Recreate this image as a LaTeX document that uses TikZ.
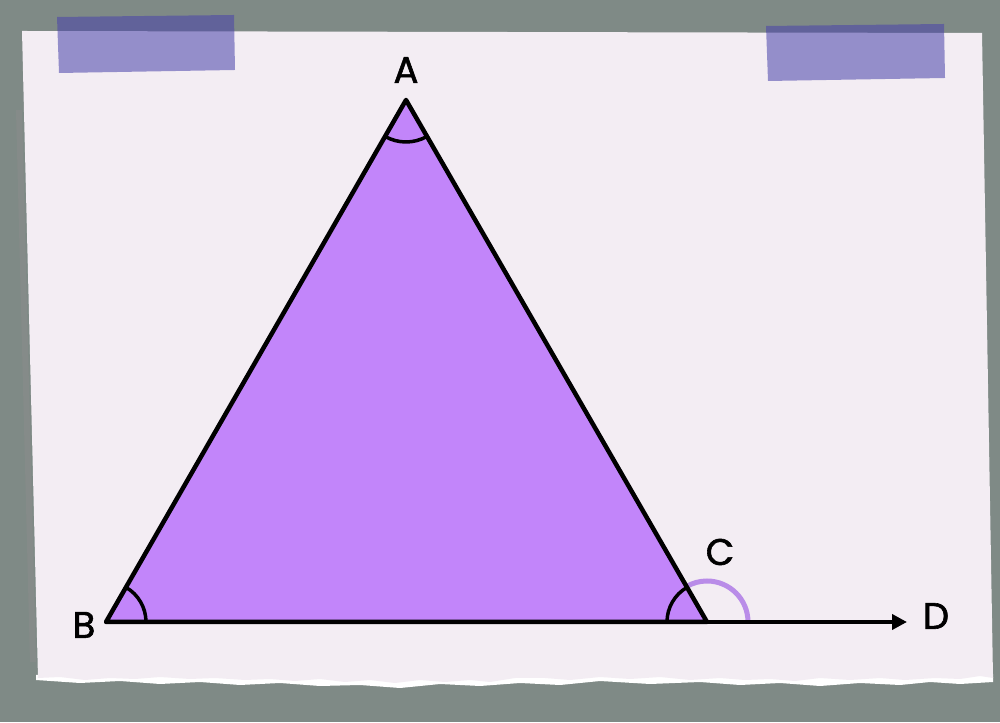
\documentclass[tikz,border=0pt]{standalone}
\usepackage{fontspec}
\setmainfont{Poppins}[FakeBold=1.6]
\usetikzlibrary{arrows.meta}
\definecolor{wall}{RGB}{127,138,134}
\definecolor{paper}{RGB}{243,237,243}
\definecolor{tapeblue}{RGB}{75,68,170}
\definecolor{trifill}{RGB}{194,133,250}
\definecolor{extarc}{RGB}{185,140,232}

\begin{document}
\begin{tikzpicture}[x=1pt, y=1pt, >={Triangle[length=15pt, width=15pt]},
	lbl/.style={font=\fontsize{37}{37}\selectfont, text=black, inner sep=0pt},
	tape/.style={fill=tapeblue, opacity=0.56},
	angarc/.style={line width=3.5pt}]
	\fill[wall] (0,0) rectangle (1000,722);
	\useasboundingbox (0,0) rectangle (1000,722);
	% paper with a torn lower edge
	\fill[black!45, opacity=0.5] (16,612) -- (22,612) -- (36,60) -- (30,60) -- cycle;
	\fill[white] (36,47) -- (993,48) -- (993,40) -- (960,38) -- (930,40) -- (900,37) -- (860,39)
		-- (820,36) -- (780,39) -- (740,37) -- (700,40) -- (650,38) -- (600,41) -- (560,37)
		-- (520,39) -- (480,36) -- (440,38) -- (400,34) -- (360,37) -- (320,36) -- (280,39)
		-- (240,37) -- (200,40) -- (160,38) -- (120,41) -- (80,39) -- (36,42) -- cycle;
	\fill[paper] (22,691) -- (982,689) -- (993,44) -- (980,46) -- (960,43) -- (935,44) -- (905,42)
		-- (880,44) -- (850,42) -- (820,44) -- (795,41) -- (770,43) -- (745,42) -- (720,44)
		-- (690,42) -- (660,45) -- (630,43) -- (600,45) -- (570,42) -- (545,44) -- (515,44)
		-- (490,40) -- (470,42) -- (445,40) -- (420,42) -- (395,39) -- (370,42) -- (345,40)
		-- (320,43) -- (295,41) -- (270,43) -- (245,42) -- (215,44) -- (190,43) -- (160,45)
		-- (135,43) -- (110,44) -- (85,42) -- (60,45) -- (38,44) -- cycle;
	% tapes
	\fill[tape] (57,705) -- (234,707) -- (235,652) -- (59,649) -- cycle;
	\fill[tape] (766,696) -- (944,698) -- (945,644) -- (768,641) -- cycle;
	% triangle
	\coordinate (A) at (406,622);
	\coordinate (B) at (106,100);
	\coordinate (C) at (707,100);
	\coordinate (D) at (907,100);
	\fill[trifill] (A) -- (B) -- (C) -- cycle;
	% angle marks
	\draw[angarc] ([shift={(0:40)}]B) arc[start angle=0, end angle=60, radius=40];
	\draw[angarc] ([shift={(240:42)}]A) arc[start angle=240, end angle=300, radius=42];
	\draw[angarc] ([shift={(120:40)}]C) arc[start angle=120, end angle=180, radius=40];
	\draw[angarc, extarc, line width=5pt] ([shift={(0:41)}]C) arc[start angle=0, end angle=120, radius=41];
	\draw[line width=4.5pt, line join=round] (A) -- (B) -- (C) -- cycle;
	\draw[->, line width=4.5pt] (C) -- (D);
	% labels
	\node[lbl] (la) at (406,652) {A};
	\node[lbl] (lb) at (84,97) {B};
	\node[lbl] (lc) at (720,170) {C};
	\node[lbl] (ld) at (936,106) {D};
\end{tikzpicture}
\end{document}
